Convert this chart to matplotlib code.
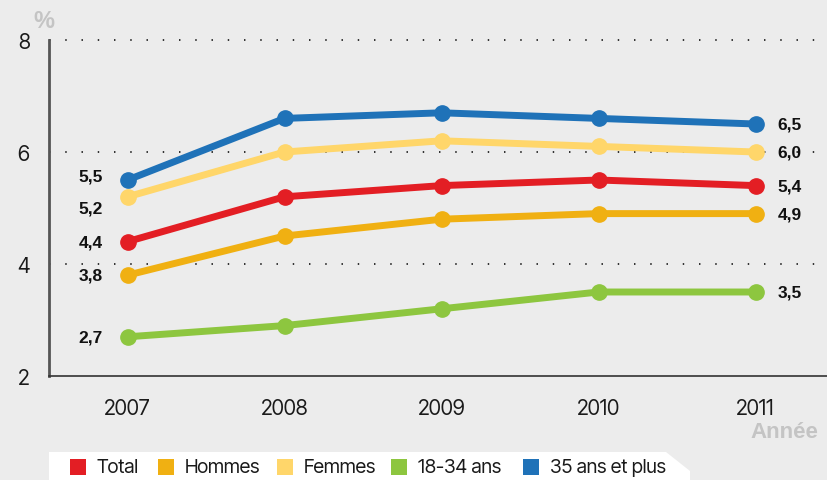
import matplotlib.pyplot as plt
from matplotlib.patches import Polygon, Rectangle

# Data
years = [2007, 2008, 2009, 2010, 2011]
series_names = ["Total", "Hommes", "Femmes", "18-34 ans", "35 ans et plus"]
total = [4.4, 5.2, 5.4, 5.5, 5.4]
hommes = [3.8, 4.5, 4.8, 4.9, 4.9]
femmes = [5.2, 6.0, 6.2, 6.1, 6.0]
jeunes = [2.7, 2.9, 3.2, 3.5, 3.5]
seniors = [5.5, 6.6, 6.7, 6.6, 6.5]
y_ticks = [2, 4, 6, 8]

COLORS = {
    "Total": "#e31e24",
    "Hommes": "#f0b012",
    "Femmes": "#ffd66a",
    "18-34 ans": "#8dc63f",
    "35 ans et plus": "#1f72b8",
}
BG = "#ececec"
BOLD_FONT = ['Liberation Sans', 'DejaVu Sans']

plt.rcParams['font.family'] = ['Inter Tight', 'Liberation Sans', 'DejaVu Sans']

fig = plt.figure(figsize=(8.28, 4.81), dpi=100, facecolor=BG)
ax = fig.add_axes([49 / 828, 1 - 377 / 481, 785 / 828, 336 / 481])
ax.set_facecolor(BG)
ax.patch.set_alpha(0)

values = {"Total": total, "Hommes": hommes, "Femmes": femmes,
          "18-34 ans": jeunes, "35 ans et plus": seniors}

# draw order: back to front as in the picture
for name in ["18-34 ans", "Hommes", "Total", "Femmes", "35 ans et plus"]:
    ax.plot(years, values[name], color=COLORS[name], lw=5, marker='o',
            markersize=11, solid_capstyle='round', zorder=3)

# small vertical nudges (points) so the left labels don't collide
left_nudge = {"35 ans et plus": 3, "Femmes": -8}
for name in series_names:
    v = values[name]
    ax.annotate(f"{v[0]:.1f}".replace('.', ','), (years[0], v[0]),
                xytext=(-18, left_nudge.get(name, 0)), textcoords='offset points',
                ha='right', va='center', fontsize=12.5, fontweight='bold',
                family=BOLD_FONT, color='#111111')
    ax.annotate(f"{v[-1]:.1f}".replace('.', ','), (years[-1], v[-1]),
                xytext=(16, 0), textcoords='offset points', ha='left',
                va='center', fontsize=12.5, fontweight='bold',
                family=BOLD_FONT, color='#111111')

ax.set_xlim(2006.5, 2011.5)
ax.set_ylim(2, 8)
ax.set_xticks(years)
ax.set_yticks(y_ticks)
ax.tick_params(length=0, labelsize=15, colors='#1a1a1a')
ax.tick_params(axis='x', pad=16)
ax.tick_params(axis='y', pad=14)

for yv in y_ticks[1:]:
    ax.plot([2006.5, 2011.45], [yv, yv], color='#222222', lw=1.3,
            linestyle=(0, (0.8, 8.2)), zorder=1, clip_on=False)

for side in ['top', 'right']:
    ax.spines[side].set_visible(False)
ax.spines['left'].set_color('#555555')
ax.spines['left'].set_linewidth(2)
ax.spines['bottom'].set_color('#333333')
ax.spines['bottom'].set_linewidth(1.2)

fig.text(33 / 828, 1 - 22 / 481, "%", fontsize=17, fontweight='bold',
         family=BOLD_FONT, color='#c4c4c4', va='center')
fig.text(750 / 828, 1 - 432 / 481, "Année", fontsize=16, fontweight='bold',
         family=BOLD_FONT, color='#c4c4c4', va='center')

# legend box with a chamfered right corner
W, H = 828, 481
box = [(49, 481), (49, 453), (666, 453), (690, 472), (690, 481)]
fig.patches.append(Polygon([(x / W, 1 - y / H) for x, y in box],
                           closed=True, facecolor='white', edgecolor='none',
                           transform=fig.transFigure))
legend_x = [70, 158, 277, 391, 523]
for name, lx in zip(series_names, legend_x):
    fig.patches.append(Rectangle((lx / W, 1 - 476 / H), 16 / W, 16 / H,
                                 facecolor=COLORS[name], edgecolor='none',
                                 transform=fig.transFigure))
    fig.text((lx + 27) / W, 1 - 468 / H, name, fontsize=14,
             color='#1a1a1a', va='center')

fig.savefig("out.png", dpi=100, facecolor=BG)
